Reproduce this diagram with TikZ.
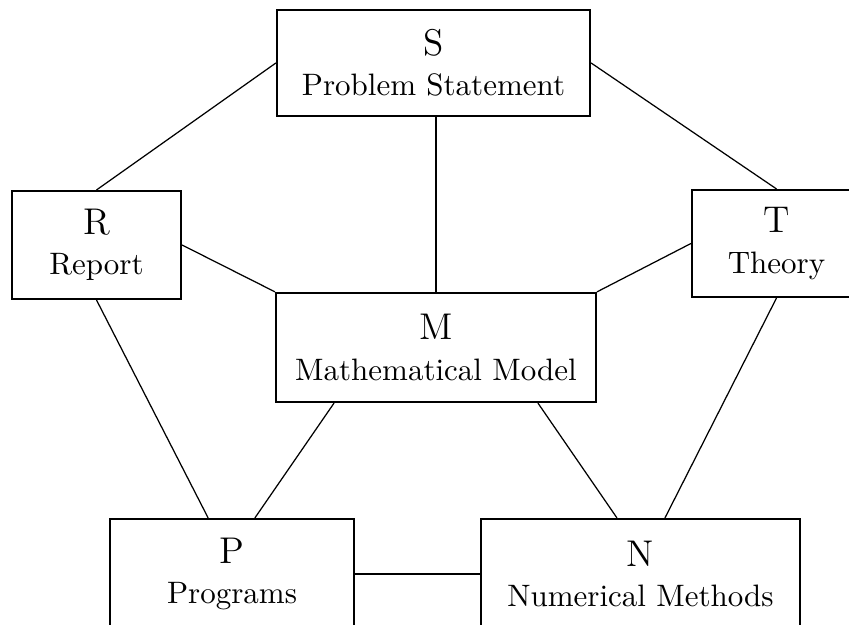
\documentclass[tikz,border=0pt]{standalone}
\begin{document}
\begin{tikzpicture}[x=0.3226pt,y=-0.3226pt,
  box/.style={draw,line width=0.7pt,inner sep=0pt,align=center,font=\normalsize},
  link/.style={line width=0.4pt}]
\clip (0,0) rectangle (849,625);
\node[box,minimum width=101pt,minimum height=34.2pt] (S) at (433.5,63) {{\large S}\\[1pt] Problem Statement};
\node[box,minimum width=54.5pt,minimum height=34.8pt] (R) at (96.5,245) {{\large R}\\[1pt] Report};
\node[box,minimum width=54.5pt,minimum height=34.5pt] (T) at (776.5,243.5) {{\large T}\\[1pt] Theory};
\node[box,minimum width=103.2pt,minimum height=35.2pt] (M) at (436,347.5) {{\large M}\\[1pt] Mathematical Model};
\node[box,minimum width=78.7pt,minimum height=35.5pt] (P) at (232,574) {{\large P}\\[1pt] Programs};
\node[box,minimum width=102.9pt,minimum height=35.5pt] (N) at (640.5,574) {{\large N}\\[1pt] Numerical Methods};
\draw[link] (S.west) -- (R.north);
\draw[link] (S.east) -- (T.north);
\draw[link] (M.north) -- (M.north |- S.south);
\draw[link] (R.east) -- (M.north west);
\draw[link] (T.west) -- (M.north east);
\draw[link] (R.south) -- ([xshift=-7.7pt]P.north);
\draw[link] (T.south) -- ([xshift=7.9pt]N.north);
\draw[link] ([xshift=-32.9pt]M.south) -- ([xshift=7.4pt]P.north);
\draw[link] ([xshift=32.9pt]M.south) -- ([xshift=-7.6pt]N.north);
\draw[link] (P.east) -- (N.west);
\end{tikzpicture}
\end{document}
